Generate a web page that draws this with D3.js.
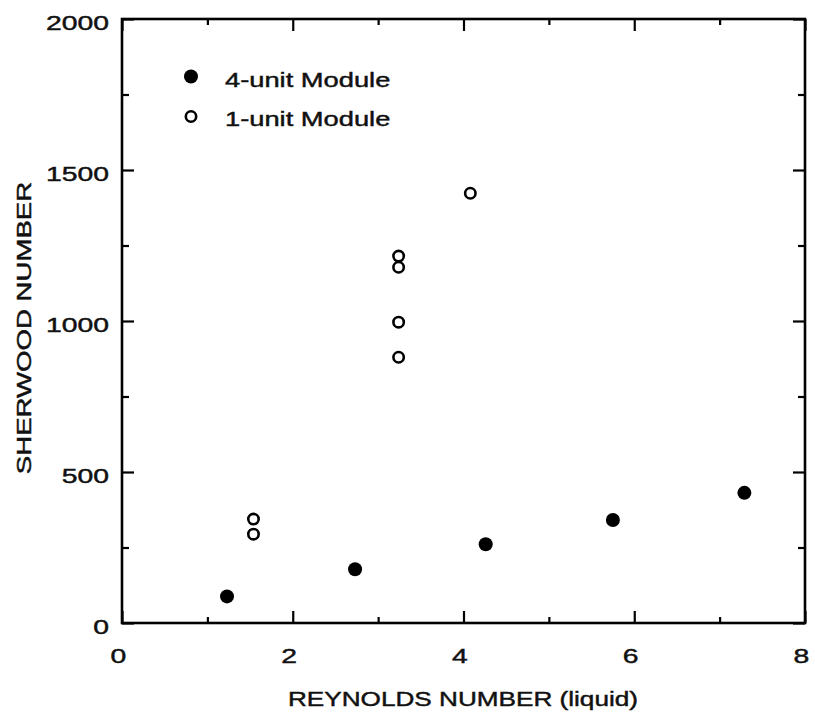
<!DOCTYPE html>
<html>
<head>
<meta charset="utf-8">
<script src="https://cdn.jsdelivr.net/npm/d3@7"></script>
<style>
html,body{margin:0;padding:0;background:#fff;}
svg text{font-family:"Liberation Sans",Arial,Helvetica,sans-serif;fill:#111;stroke:#111;stroke-width:0.45px;}
</style>
</head>
<body>
<svg id="chart" width="815" height="719"></svg>
<script>
// ---- data ----
const fourUnitRe = [1.23, 2.73, 4.26, 5.75, 7.29];
const fourUnitSh = [88, 178, 261, 341, 431];
const oneUnitRe = [1.54, 1.54, 3.24, 3.24, 3.24, 3.24, 4.08];
const oneUnitSh = [344, 294, 1215, 1178, 996, 880, 1423];
const xMajorTicks = [0, 2, 4, 6, 8];
const xMinorTicks = [1, 3, 5, 7];
const yMajorTicks = [0, 500, 1000, 1500, 2000];
const yMinorTicks = [250, 750, 1250, 1750];
const seriesNames = ["4-unit Module", "1-unit Module"];
const xTitle = "REYNOLDS NUMBER (liquid)";
const yTitle = "SHERWOOD NUMBER";

// ---- layout ----
const L = 122, R = 805, T = 19, B = 623;
const svg = d3.select("#chart");
const x = d3.scaleLinear().domain([0, 8]).range([L, R]);
const y = d3.scaleLinear().domain([0, 2000]).range([B, T]);
const STX = 1.35;

function styleAxis(g, sw) {
  g.select(".domain").remove();
  g.selectAll(".tick line").attr("stroke", "#000").attr("stroke-width", sw);
}

// bottom
const gb = svg.append("g").attr("transform", `translate(0,${B})`)
  .call(d3.axisBottom(x).tickValues(xMajorTicks).tickSizeInner(-12).tickSizeOuter(0).tickFormat(d3.format("d")));
styleAxis(gb, 2.2);
gb.selectAll("text").attr("y", null).attr("dy", null).attr("fill", null)
  .attr("font-size", 21).attr("transform", `translate(-4,40) scale(${STX},1)`);
const gbm = svg.append("g").attr("transform", `translate(0,${B})`)
  .call(d3.axisBottom(x).tickValues(xMinorTicks).tickSizeInner(-6).tickSizeOuter(0).tickFormat(""));
styleAxis(gbm, 2.2);

// top
const gt = svg.append("g").attr("transform", `translate(0,${T})`)
  .call(d3.axisTop(x).tickValues(xMajorTicks).tickSizeInner(-12).tickSizeOuter(0).tickFormat(""));
styleAxis(gt, 2.2);
const gtm = svg.append("g").attr("transform", `translate(0,${T})`)
  .call(d3.axisTop(x).tickValues(xMinorTicks).tickSizeInner(-6).tickSizeOuter(0).tickFormat(""));
styleAxis(gtm, 2.2);

// left
const gl = svg.append("g").attr("transform", `translate(${L},0)`)
  .call(d3.axisLeft(y).tickValues(yMajorTicks).tickSizeInner(-12).tickSizeOuter(0).tickFormat(d3.format("d")));
styleAxis(gl, 2.2);
gl.selectAll("text").attr("x", null).attr("dy", null).attr("fill", null)
  .attr("font-size", 21).attr("text-anchor", "end")
  .attr("transform", `translate(-13,10) scale(${STX},1)`);
const glm = svg.append("g").attr("transform", `translate(${L},0)`)
  .call(d3.axisLeft(y).tickValues(yMinorTicks).tickSizeInner(-7).tickSizeOuter(0).tickFormat(""));
styleAxis(glm, 2.2);

// right
const gr = svg.append("g").attr("transform", `translate(${R},0)`)
  .call(d3.axisRight(y).tickValues(yMajorTicks).tickSizeInner(-12).tickSizeOuter(0).tickFormat(""));
styleAxis(gr, 2.2);
const grm = svg.append("g").attr("transform", `translate(${R},0)`)
  .call(d3.axisRight(y).tickValues(yMinorTicks).tickSizeInner(-7).tickSizeOuter(0).tickFormat(""));
styleAxis(grm, 2.2);

// frame
svg.append("rect").attr("x", L).attr("y", T).attr("width", R - L).attr("height", B - T)
  .attr("fill", "none").attr("stroke", "#000").attr("stroke-width", 2.6);

// titles
svg.append("text").text(xTitle).attr("font-size", 21).attr("text-anchor", "middle")
  .attr("transform", `translate(463,706) scale(1.245,1)`);
svg.append("text").text(yTitle).attr("font-size", 21).attr("text-anchor", "middle")
  .attr("transform", `translate(31,328) rotate(-90) scale(1.315,1)`);

// data
const filled = fourUnitRe.map((v, i) => ({x: v, y: fourUnitSh[i]}));
const open = oneUnitRe.map((v, i) => ({x: v, y: oneUnitSh[i]}));
svg.append("g").selectAll("circle").data(filled).join("circle")
  .attr("cx", d => x(d.x)).attr("cy", d => y(d.y)).attr("r", 7).attr("fill", "#000");
svg.append("g").selectAll("circle").data(open).join("circle")
  .attr("cx", d => x(d.x)).attr("cy", d => y(d.y)).attr("r", 5.2)
  .attr("fill", "#fff").attr("stroke", "#000").attr("stroke-width", 2.6);

// legend
const lg = svg.append("g");
lg.append("circle").attr("cx", 191).attr("cy", 76.5).attr("r", 7).attr("fill", "#000");
lg.append("circle").attr("cx", 191).attr("cy", 116.5).attr("r", 5.2)
  .attr("fill", "#fff").attr("stroke", "#000").attr("stroke-width", 2.6);
lg.append("text").text(seriesNames[0]).attr("font-size", 21)
  .attr("transform", `translate(225,86.5) scale(1.3,1)`);
lg.append("text").text(seriesNames[1]).attr("font-size", 21)
  .attr("transform", `translate(225,126) scale(1.3,1)`);
</script>
</body>
</html>
